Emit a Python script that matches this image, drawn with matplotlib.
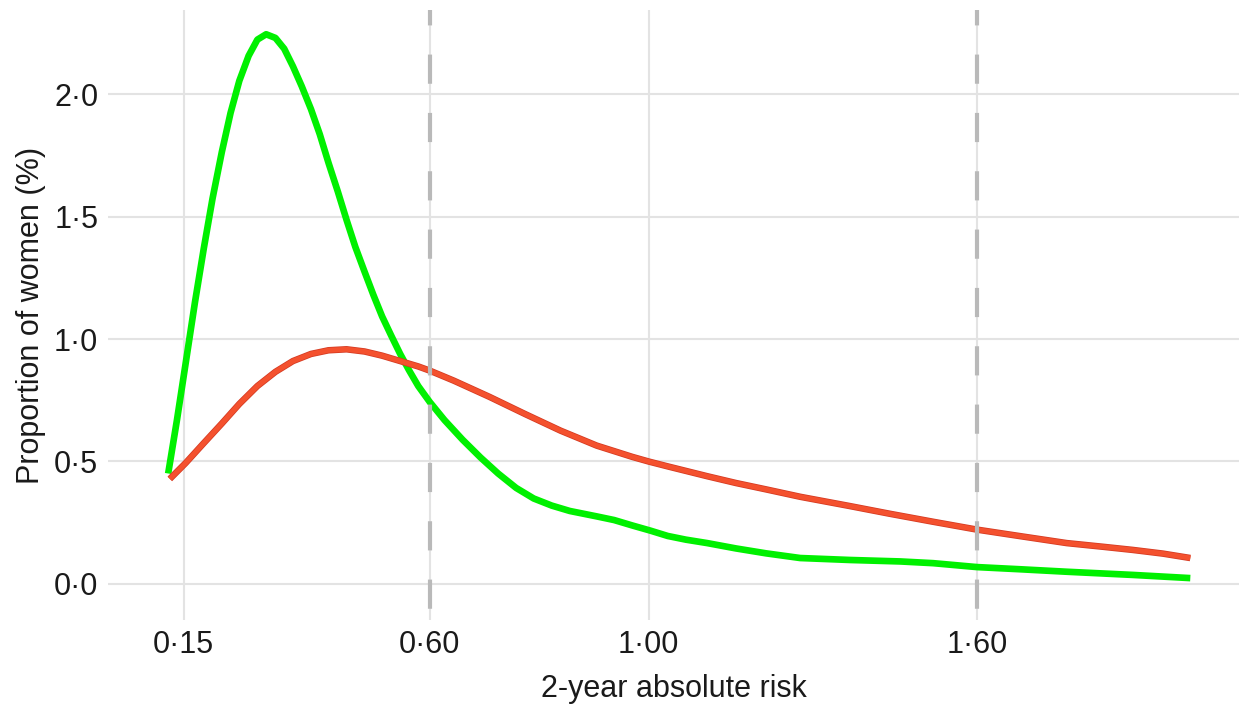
import numpy as np
import matplotlib.pyplot as plt
import matplotlib.patheffects as pe

plt.rcParams['font.family'] = ['Liberation Sans', 'DejaVu Sans']

# values (2-year absolute risk vs proportion of women, %)
green_x = [0.122, 0.138, 0.154, 0.171, 0.187, 0.203, 0.220, 0.236, 0.252, 0.269,
           0.285, 0.301, 0.318, 0.334, 0.350, 0.366, 0.383, 0.399, 0.415, 0.432,
           0.448, 0.464, 0.481, 0.497, 0.513, 0.530, 0.546, 0.562, 0.579, 0.600,
           0.627, 0.660, 0.693, 0.725, 0.758, 0.790, 0.823, 0.856, 0.905, 0.937,
           0.970, 1.003, 1.035, 1.068, 1.107, 1.160, 1.215, 1.277, 1.368, 1.460,
           1.520, 1.600, 1.680, 1.764, 1.885, 1.990]
green_y = [0.451, 0.669, 0.902, 1.151, 1.369, 1.573, 1.763, 1.923, 2.054, 2.156,
           2.222, 2.244, 2.229, 2.185, 2.113, 2.032, 1.938, 1.836, 1.719, 1.602,
           1.486, 1.376, 1.274, 1.180, 1.092, 1.012, 0.939, 0.873, 0.808, 0.743,
           0.669, 0.589, 0.516, 0.451, 0.392, 0.349, 0.320, 0.298, 0.276, 0.261,
           0.239, 0.218, 0.196, 0.181, 0.167, 0.145, 0.125, 0.106, 0.098, 0.092,
           0.085, 0.069, 0.060, 0.050, 0.037, 0.024]

red_x = [0.125, 0.154, 0.187, 0.220, 0.252, 0.285, 0.318, 0.350, 0.383, 0.415,
         0.448, 0.481, 0.513, 0.546, 0.579, 0.600, 0.644, 0.709, 0.774, 0.839,
         0.905, 0.970, 1.000, 1.035, 1.107, 1.160, 1.215, 1.277, 1.368, 1.440,
         1.520, 1.600, 1.680, 1.764, 1.830, 1.885, 1.940, 1.990]
red_y = [0.429, 0.494, 0.575, 0.655, 0.735, 0.808, 0.866, 0.910, 0.939, 0.954,
         0.958, 0.949, 0.932, 0.910, 0.888, 0.871, 0.830, 0.764, 0.694, 0.626,
         0.565, 0.519, 0.500, 0.480, 0.440, 0.412, 0.386, 0.356, 0.318, 0.287,
         0.254, 0.222, 0.195, 0.167, 0.152, 0.139, 0.124, 0.106]

x_ticks = [0.15, 0.60, 1.00, 1.60]
x_labels = ['0\u00b715', '0\u00b760', '1\u00b700', '1\u00b760']
y_ticks = [0.0, 0.5, 1.0, 1.5, 2.0]
y_labels = ['0\u00b70', '0\u00b75', '1\u00b70', '1\u00b75', '2\u00b70']
cutoffs = [0.60, 1.60]

fig = plt.figure(figsize=(12.39, 7.04), dpi=100)
ax = fig.add_axes([108/1239, 84/704, 1131/1239, 610/704])

ax.set_xlim(0.012, 2.079)
ax.set_ylim(-0.147, 2.343)
ax.set_xticks(x_ticks, x_labels)
ax.set_yticks(y_ticks, y_labels)
ax.grid(True, color='#e3e3e3', lw=1.5)
ax.set_axisbelow(True)
for s in ax.spines.values():
    s.set_visible(False)
ax.tick_params(length=0, labelsize=22, pad=7, colors='#1a1a1a')

ax.plot(green_x, green_y, color='#00f000', lw=4.8, solid_capstyle='butt',
        solid_joinstyle='round', zorder=3)
ax.plot(red_x, red_y, color='#f4512e', lw=3.6, solid_capstyle='butt',
        solid_joinstyle='round', zorder=4,
        path_effects=[pe.Stroke(linewidth=4.7, foreground='#d43a22'), pe.Normal()])

for c in cutoffs:
    ax.axvline(c, color='#b9b9b9', lw=3, ls=(11.3, (7, 7)), zorder=5)

ax.set_xlabel('2-year absolute risk', fontsize=22, labelpad=10, color='#1a1a1a')
ax.set_ylabel('Proportion of women (%)', fontsize=22, labelpad=6, color='#1a1a1a')

fig.savefig('out.png', dpi=100)
